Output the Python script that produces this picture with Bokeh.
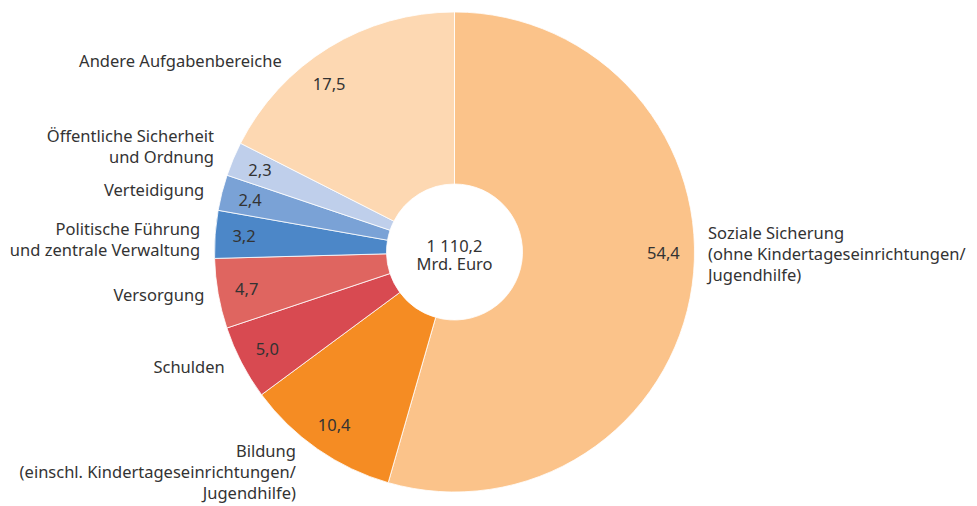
import math
from bokeh.plotting import figure
from bokeh.models import Range1d, ColumnDataSource
from bokeh.core.properties import value
from bokeh.embed import file_html
from bokeh.resources import INLINE

# ---- data ----
categories = [
    "Soziale Sicherung\n(ohne Kindertageseinrichtungen/\nJugendhilfe)",
    "Bildung\n(einschl. Kindertageseinrichtungen/\nJugendhilfe)",
    "Schulden",
    "Versorgung",
    "Politische Führung\nund zentrale Verwaltung",
    "Verteidigung",
    "Öffentliche Sicherheit\nund Ordnung",
    "Andere Aufgabenbereiche",
]
shares = [54.4, 10.4, 5.0, 4.7, 3.2, 2.4, 2.3, 17.5]
value_labels = ["54,4", "10,4", "5,0", "4,7", "3,2", "2,4", "2,3", "17,5"]
center_lines = ["1 110,2", "Mrd. Euro"]

# ---- style ----
colors = ["#FBC38A", "#F58C23", "#D84A51", "#DF6560", "#4C87C8", "#7AA2D6", "#BFCFEB", "#FDD8B2"]
FONT = "Noto Sans"
FS = "16.5px"
TXT = "#333333"
W, H = 977, 506
CX, CY = 454, 251.5          # page pixel centre
R_OUT, R_IN = 240, 68
R_VAL, R_CAT = 211, 250
LINE_H = 21
# fine offsets (page px) for the label placement
val_off = [(0, -28), (0, 0), (0, 0), (0, 0), (0, 0), (0, 0), (0, 0), (-15, 12)]
cat_off = [(6, -33), (-16, 14), (-8, -1), (-4, -1), (-5, 5), (-8, -1), (-10, -9), (-42, 22)]

def dy(page_y):
    return H - page_y

p = figure(width=W, height=H, x_range=Range1d(0, W), y_range=Range1d(0, H),
           output_backend="svg", toolbar_location=None, min_border=0,
           outline_line_color=None)
p.axis.visible = False
p.grid.visible = False
p.background_fill_color = "white"

total = sum(shares)
starts, ends, mids = [], [], []
acc = 0.0
for s in shares:
    a0 = acc / total * 2 * math.pi
    acc += s
    a1 = acc / total * 2 * math.pi
    starts.append(math.pi / 2 - a0)
    ends.append(math.pi / 2 - a1)
    mids.append((a0 + a1) / 2)   # clockwise from top

src = ColumnDataSource(dict(start=starts, end=ends, color=colors))
p.annular_wedge(x=CX, y=dy(CY), inner_radius=R_IN, outer_radius=R_OUT,
                start_angle="start", end_angle="end", direction="clock",
                fill_color="color", line_color="white", line_width=0.8, source=src)

# value labels
vx, vy = [], []
for m, (ox, oy) in zip(mids, val_off):
    vx.append(CX + R_VAL * math.sin(m) + ox)
    vy.append(dy(CY - R_VAL * math.cos(m) + oy))
p.text(x=vx, y=vy, text=value_labels, text_align="center", text_baseline="middle",
       text_font=value(FONT), text_font_size=FS, text_color=TXT)

# category labels
for cat, m, (ox, oy) in zip(categories, mids, cat_off):
    ax = CX + R_CAT * math.sin(m) + ox
    ay = CY - R_CAT * math.cos(m) + oy
    lines = cat.split("\n")
    n = len(lines)
    align = "left" if math.sin(m) > 0 else "right"
    ys = [dy(ay + (i - (n - 1) / 2) * LINE_H) for i in range(n)]
    p.text(x=[ax] * n, y=ys, text=lines, text_align=align, text_baseline="middle",
           text_font=value(FONT), text_font_size=FS, text_color=TXT)

# centre text
n = len(center_lines)
p.text(x=[CX] * n, y=[dy(CY + 2.5 + (i - (n - 1) / 2) * 18) for i in range(n)], text=center_lines,
       text_align="center", text_baseline="middle",
       text_font=value(FONT), text_font_size=FS, text_color=TXT)

open("out.html", "w").write(file_html(p, INLINE))
